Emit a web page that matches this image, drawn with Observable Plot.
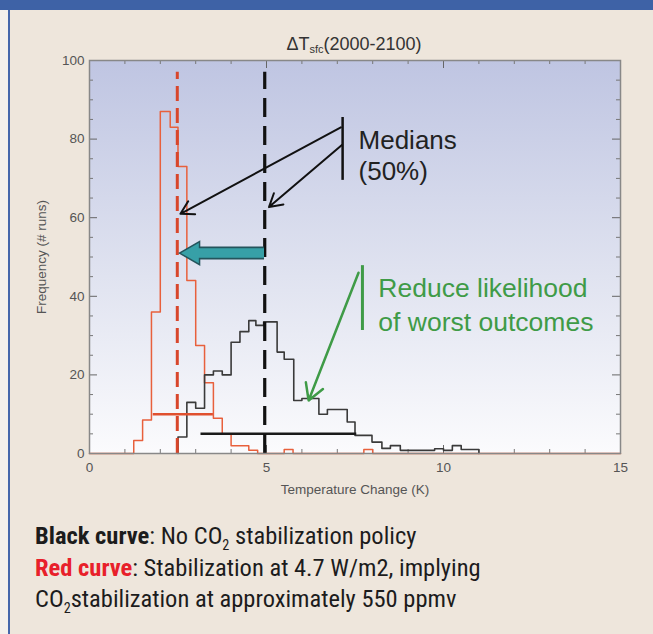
<!DOCTYPE html>
<html><head><meta charset="utf-8">
<script src="https://cdn.jsdelivr.net/npm/d3@7"></script>
<script src="https://cdn.jsdelivr.net/npm/@observablehq/plot@0.6"></script>
<style>
html,body{margin:0;padding:0;}
body{width:653px;height:634px;overflow:hidden;background:#eee6dc;font-family:"Liberation Sans",Arial,sans-serif;position:relative;}
#band{position:absolute;left:0;top:0;width:653px;height:10px;background:#3e62a6;}
#lstrip{position:absolute;left:0;top:10px;width:8px;height:624px;background:#f4f1ec;}
#lline{position:absolute;left:8px;top:10px;width:2px;height:624px;background:#4567ab;}
#chart{position:absolute;left:0;top:10px;}
#caption{position:absolute;left:35px;top:520px;font-family:"Liberation Sans Narrow","Roboto Condensed","Liberation Sans",Arial,sans-serif;font-size:24.5px;line-height:31.6px;color:#1c1c1c;white-space:nowrap;}
#caption b{font-weight:bold;}
#caption .red{color:#e8202a;}
#caption sub{font-size:58%;line-height:0;vertical-align:-0.45em;}
</style></head>
<body>
<div id="band"></div><div id="lstrip"></div><div id="lline"></div>
<div id="chart"></div>
<div id="caption">
<div><b>Black curve</b>: No CO<sub>2</sub> stabilization policy</div>
<div><b class="red">Red curve</b>: Stabilization at 4.7 W/m2, implying</div>
<div>CO<sub>2</sub>stabilization at approximately 550 ppmv</div>
</div>
<script>
// Red histogram (step starts, K) and frequency
const redX = [0, 1.25, 1.5, 1.75, 2.0, 2.28, 2.5, 2.75, 3.0, 3.25, 3.5, 3.75, 4.0, 4.25, 4.5, 4.75, 5.5, 5.75, 7.75, 8.0, 15];
const redY = [0, 3.3, 8.5, 36, 87, 83, 73, 44, 27.5, 18, 9, 5, 2, 2, 0.8, 0, 1, 0, 1, 0, 0];
// Black histogram
const blackX = [2.5, 2.5, 2.75, 3.0, 3.25, 3.5, 3.75, 4.0, 4.25, 4.5, 4.7, 4.92, 5.3, 5.5, 5.77, 6.0, 6.48, 6.72, 7.28, 7.5, 7.98, 8.26, 8.5, 8.78, 9.75, 10.0, 10.25, 10.5, 11.0];
const blackY = [0, 4.2, 13, 11.5, 20, 21, 20, 28.3, 31, 33.8, 32.6, 33.5, 25.8, 24, 13.5, 14, 10, 11.2, 8, 4.6, 2.9, 1.3, 2, 0.8, 1.2, 0.8, 2, 1, 0];
// Medians and spreads
const redMedian = 2.48, blackMedian = 4.95, medianTop = 97;
const redSpread = [1.8, 3.5], redSpreadY = 10;
const blackSpread = [3.15, 7.55], blackSpreadY = 5;
// Tick labels
const xMajor = [0, 5, 10, 15];
const xMinor = [1, 2, 3, 4, 6, 7, 8, 9, 11, 12, 13, 14];
const yMajor = [0, 20, 40, 60, 80, 100];
const yMinor = [5, 10, 15, 25, 30, 35, 45, 50, 55, 65, 70, 75, 85, 90, 95];
// Annotations
const medianArrows = [
  {x1: 7.1, y1: 83, x2: 2.57, y2: 61},
  {x1: 7.13, y1: 78.5, x2: 5.07, y2: 62.7}
];
const medianBar = {x: 7.15, y1: 69.5, y2: 85.5};
const medianLabels = [{x: 7.6, y: 79.6, text: "Medians"}, {x: 7.6, y: 71.6, text: "(50%)"}];
const greenArrow = [{x1: 7.6, y1: 46, x2: 6.19, y2: 13.5}];
const greenBar = {x: 7.71, y1: 31.3, y2: 47.8};
const greenLabels = [{x: 8.16, y: 42, text: "Reduce likelihood"}, {x: 8.16, y: 33.3, text: "of worst outcomes"}];
const tealShaft = [{x1: 4.93, x2: 3.0, y: 51}];
const tealHead = [{x: 2.92, y: 51}];

const redPts = redX.map((x, i) => ({x, y: redY[i]}));
const blackPts = blackX.map((x, i) => ({x, y: blackY[i]}));
const fw = 653 - 89 - 33, fh = 490 - 50 - 47;

const chart = Plot.plot({
  width: 653, height: 490,
  marginLeft: 89, marginRight: 33, marginTop: 50, marginBottom: 47,
  style: {background: "transparent", fontFamily: "Liberation Sans, Arial, sans-serif", fontSize: "13px", color: "#555"},
  x: {domain: [0, 15]},
  y: {domain: [0, 100]},
  marks: [
    Plot.frame({fill: "url(#bg)"}),
    Plot.tickX(xMajor, {x: d => d, insetTop: fh - 8, stroke: "#666"}),
    Plot.tickX(xMajor, {x: d => d, insetBottom: fh - 8, stroke: "#666"}),
    Plot.tickX(xMinor, {x: d => d, insetTop: fh - 4, stroke: "#777"}),
    Plot.tickX(xMinor, {x: d => d, insetBottom: fh - 4, stroke: "#777"}),
    Plot.tickY(yMajor, {y: d => d, insetRight: fw - 8, stroke: "#666"}),
    Plot.tickY(yMajor, {y: d => d, insetLeft: fw - 8, stroke: "#666"}),
    Plot.tickY(yMinor, {y: d => d, insetRight: fw - 4, stroke: "#777"}),
    Plot.tickY(yMinor, {y: d => d, insetLeft: fw - 4, stroke: "#777"}),
    Plot.axisX({ticks: xMajor, tickSize: 0, tickPadding: 9, label: "Temperature Change (K)", labelAnchor: "center", labelArrow: "none", labelOffset: 40, fontSize: 13.5}),
    Plot.axisY({ticks: yMajor, tickSize: 0, tickPadding: 5, label: "Frequency (# runs)", labelAnchor: "center", labelArrow: "none", labelOffset: 53, fontSize: 13.5}),
    Plot.line(redPts, {x: "x", y: "y", curve: "step-after", stroke: "#e8603c", strokeWidth: 1.5}),
    Plot.line(blackPts, {x: "x", y: "y", curve: "step-after", stroke: "#3a3a3a", strokeWidth: 1.6}),
    Plot.ruleY([redSpreadY], {y: d => d, x1: redSpread[0], x2: redSpread[1], stroke: "#e0502f", strokeWidth: 2.5}),
    Plot.ruleY([blackSpreadY], {y: d => d, x1: blackSpread[0], x2: blackSpread[1], stroke: "#1a1a1a", strokeWidth: 2.5}),
    Plot.ruleX([redMedian], {x: d => d, y1: 0, y2: medianTop, stroke: "#d8462b", strokeWidth: 3, strokeDasharray: "15,7"}),
    Plot.ruleX([blackMedian], {x: d => d, y1: 0, y2: medianTop, stroke: "#111", strokeWidth: 3.2, strokeDasharray: "19,9"}),
    Plot.link(tealShaft, {x1: "x1", x2: "x2", y1: "y", y2: "y", stroke: "#24545c", strokeWidth: 13, strokeLinecap: "butt"}),
    Plot.dot(tealHead, {x: "x", y: "y", symbol: "triangle", r: 8.6, rotate: -90, fill: "#37a0a7", stroke: "#24545c", strokeWidth: 1.5}),
    Plot.link(tealShaft, {x1: "x1", x2: d => d.x2 - 0.15, y1: "y", y2: "y", stroke: "#37a0a7", strokeWidth: 9.5, strokeLinecap: "butt"}),
    Plot.arrow(medianArrows, {x1: "x1", y1: "y1", x2: "x2", y2: "y2", stroke: "#111", strokeWidth: 2, headLength: 11}),
    Plot.ruleX([medianBar], {x: "x", y1: "y1", y2: "y2", stroke: "#111", strokeWidth: 2.5}),
    Plot.text(medianLabels, {x: "x", y: "y", text: "text", textAnchor: "start", fontSize: 26, fill: "#222", stroke: "none"}),
    Plot.arrow(greenArrow, {x1: "x1", y1: "y1", x2: "x2", y2: "y2", stroke: "#3f9b47", strokeWidth: 2.5, headLength: 11}),
    Plot.ruleX([greenBar], {x: "x", y1: "y1", y2: "y2", stroke: "#3f9b47", strokeWidth: 3}),
    Plot.text(greenLabels, {x: "x", y: "y", text: "text", textAnchor: "start", fontSize: 26.5, fill: "#3f9b47"}),
    Plot.frame({stroke: "#888", strokeWidth: 1.5})
  ]
});

const svg = d3.select(chart);
const defs = svg.insert("defs", ":first-child");
const g = defs.append("linearGradient").attr("id", "bg").attr("x1", 0).attr("y1", 0).attr("x2", 0).attr("y2", 1);
g.append("stop").attr("offset", "0%").attr("stop-color", "#bfc5e2");
g.append("stop").attr("offset", "55%").attr("stop-color", "#e0e3f0");
g.append("stop").attr("offset", "100%").attr("stop-color", "#fbfbfd");
const t = svg.append("text").attr("x", 354).attr("y", 40).attr("text-anchor", "middle")
  .attr("font-size", 18).attr("fill", "#333").attr("font-family", "Liberation Sans, Arial, sans-serif");
t.append("tspan").text("ΔT");
t.append("tspan").attr("font-size", 11).attr("dy", 3).text("sfc");
t.append("tspan").attr("dy", -3).text("(2000-2100)");
document.getElementById("chart").appendChild(chart);
</script>
</body></html>
